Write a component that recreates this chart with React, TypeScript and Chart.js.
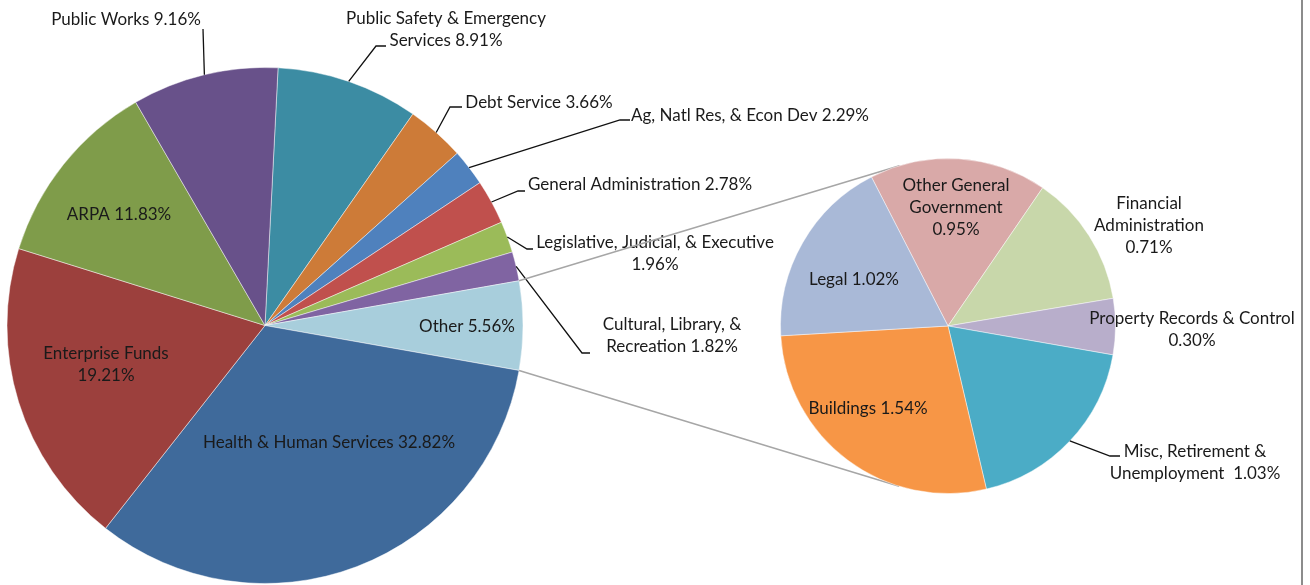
import { useEffect, useRef } from "react";
import { Chart, registerables } from "chart.js";

Chart.register(...registerables);

// ---------- DATA ----------
const mainCategories: string[] = [
  "Public Safety & Emergency\nServices",
  "Debt Service",
  "Ag, Natl Res, & Econ Dev",
  "General Administration",
  "Legislative, Judicial, & Executive",
  "Cultural, Library, &\nRecreation",
  "Other",
  "Health & Human Services",
  "Enterprise Funds",
  "ARPA",
  "Public Works",
];
const mainValues: number[] = [8.91, 3.66, 2.29, 2.78, 1.96, 1.82, 5.56, 32.82, 19.21, 11.83, 9.16];

const subCategories: string[] = [
  "Other General\nGovernment",
  "Financial\nAdministration",
  "Property Records & Control",
  "Misc, Retirement &\nUnemployment",
  "Buildings",
  "Legal",
];
const subValues: number[] = [0.95, 0.71, 0.3, 1.03, 1.54, 1.02];

// ---------- STYLE ----------
const mainColors = [
  "#3C8CA3", "#CD7B38", "#4F81BD", "#C0504D", "#9BBB59", "#8064A2",
  "#A8CEDC", "#3F6A9B", "#9C403D", "#7F9C4A", "#68518A",
];
const subColors = ["#D9A9A8", "#C8D7AA", "#B8AECB", "#4BACC6", "#F79646", "#A9B9D7"];

const FONT_FAMILY = "Lato, 'Open Sans', sans-serif";
const FONT_SIZE = 17;
const LINE_H = 22;
const TEXT_COLOR = "#1a1a1a";
const LEADER_COLOR = "#111";
const CONNECTOR_COLOR = "#A6A6A6";
const W = 1310;
const H = 585;

type LabelLayout = { x: number; y: number; sep: string; leader?: [number, number][] };

const mainLayout: LabelLayout[] = [
  { x: 446, y: 19, sep: " ", leader: [[376, 46], [386, 46]] },
  { x: 539, y: 103, sep: " ", leader: [[450, 107], [462, 107]] },
  { x: 750, y: 116, sep: " ", leader: [[620, 120], [630, 120]] },
  { x: 640, y: 185, sep: " ", leader: [[518, 191], [525, 191]] },
  { x: 655, y: 243, sep: "\n", leader: [[527, 249], [533, 249]] },
  { x: 672, y: 325, sep: " ", leader: [[582, 353], [590, 353]] },
  { x: 467, y: 327, sep: " " },
  { x: 329, y: 443, sep: " " },
  { x: 106, y: 354, sep: "\n" },
  { x: 119, y: 215, sep: " " },
  { x: 126, y: 20, sep: " ", leader: [[203, 29]] },
];

const subLayout: LabelLayout[] = [
  { x: 956, y: 186, sep: "\n" },
  { x: 1149, y: 204, sep: "\n" },
  { x: 1192, y: 319, sep: "\n" },
  { x: 1195, y: 452, sep: "  ", leader: [[1110, 456], [1120, 456]] },
  { x: 868, y: 409, sep: " " },
  { x: 854, y: 280, sep: " " },
];

function arcProps(chart: any, i: number) {
  const el = chart.getDatasetMeta(0).data[i] as any;
  return el.getProps(["x", "y", "startAngle", "endAngle", "outerRadius"], true);
}

function drawLabels(chart: any, categories: string[], values: number[], layout: LabelLayout[]) {
  const ctx: CanvasRenderingContext2D = chart.ctx;
  ctx.save();
  ctx.font = `${FONT_SIZE}px ${FONT_FAMILY}`;
  ctx.fillStyle = TEXT_COLOR;
  ctx.textAlign = "center";
  ctx.textBaseline = "middle";
  categories.forEach((cat, i) => {
    const L = layout[i];
    const text = cat + L.sep + values[i].toFixed(2) + "%";
    text.split("\n").forEach((ln, j) => ctx.fillText(ln, L.x, L.y + j * LINE_H));
    if (L.leader) {
      const p = arcProps(chart, i);
      const mid = (p.startAngle + p.endAngle) / 2;
      ctx.beginPath();
      ctx.moveTo(p.x + p.outerRadius * Math.cos(mid), p.y + p.outerRadius * Math.sin(mid));
      L.leader.forEach(([lx, ly]) => ctx.lineTo(lx, ly));
      ctx.strokeStyle = LEADER_COLOR;
      ctx.lineWidth = 1.3;
      ctx.stroke();
    }
  });
  ctx.restore();
}

export default function App() {
  const mainRef = useRef<HTMLCanvasElement | null>(null);
  const subRef = useRef<HTMLCanvasElement | null>(null);

  useEffect(() => {
    if (!mainRef.current || !subRef.current) return;
    const otherIndex = mainCategories.indexOf("Other");

    const mainChart = new Chart(mainRef.current, {
      type: "pie",
      data: {
        labels: mainCategories,
        datasets: [
          {
            data: mainValues,
            backgroundColor: mainColors,
            borderColor: "rgba(255,255,255,0.45)",
            borderWidth: 1,
          },
        ],
      },
      options: {
        responsive: false,
        animation: false,
        events: [],
        rotation: 2.9,
        layout: { padding: { left: 6, top: 67, right: W - 524, bottom: 1 } },
        plugins: { legend: { display: false }, tooltip: { enabled: false } },
      },
      plugins: [
        {
          id: "mainLabels",
          afterDraw(chart: any) {
            drawLabels(chart, mainCategories, mainValues, mainLayout);
          },
        },
      ],
    });

    const subChart = new Chart(subRef.current, {
      type: "pie",
      data: {
        labels: subCategories,
        datasets: [
          {
            data: subValues,
            backgroundColor: subColors,
            borderColor: "rgba(255,255,255,0.45)",
            borderWidth: 1,
          },
        ],
      },
      options: {
        responsive: false,
        animation: false,
        events: [],
        rotation: -27.2,
        layout: { padding: { left: 780, top: 158, right: W - 1116, bottom: H - 494 } },
        plugins: { legend: { display: false }, tooltip: { enabled: false } },
      },
      plugins: [
        {
          id: "connectors",
          beforeDatasetsDraw(chart: any) {
            const ctx: CanvasRenderingContext2D = chart.ctx;
            const m = arcProps(mainChart, otherIndex);
            const s = arcProps(chart, 0);
            const r = s.outerRadius;
            const ends: [number, number, number][] = [
              [m.startAngle, -1, 0],
              [m.endAngle, 1, 0],
            ];
            ctx.save();
            ctx.strokeStyle = CONNECTOR_COLOR;
            ctx.lineWidth = 1.5;
            ends.forEach(([ang, sign]) => {
              const px = m.x + m.outerRadius * Math.cos(ang);
              const py = m.y + m.outerRadius * Math.sin(ang);
              const dx = s.x - px;
              const dy = s.y - py;
              const d = Math.sqrt(dx * dx + dy * dy);
              const theta = Math.atan2(dy, dx);
              const alpha = Math.asin(r / d);
              const len = Math.sqrt(d * d - r * r);
              const dir = theta + sign * alpha;
              ctx.beginPath();
              ctx.moveTo(px, py);
              ctx.lineTo(px + len * Math.cos(dir), py + len * Math.sin(dir));
              ctx.stroke();
            });
            ctx.restore();
          },
          afterDraw(chart: any) {
            drawLabels(chart, subCategories, subValues, subLayout);
            const ctx: CanvasRenderingContext2D = chart.ctx;
            ctx.save();
            ctx.strokeStyle = "#8C8C8C";
            ctx.lineWidth = 2;
            ctx.beginPath();
            ctx.moveTo(1302, 0);
            ctx.lineTo(1302, H);
            ctx.stroke();
            ctx.restore();
          },
        },
      ],
    });

    return () => {
      subChart.destroy();
      mainChart.destroy();
    };
  }, []);

  return (
    <div style={{ position: "absolute", left: 0, top: 0, width: W, height: H, background: "#fff" }}>
      <canvas ref={mainRef} width={W} height={H} style={{ position: "absolute", left: 0, top: 0, width: W, height: H }} />
      <canvas ref={subRef} width={W} height={H} style={{ position: "absolute", left: 0, top: 0, width: W, height: H }} />
    </div>
  );
}
